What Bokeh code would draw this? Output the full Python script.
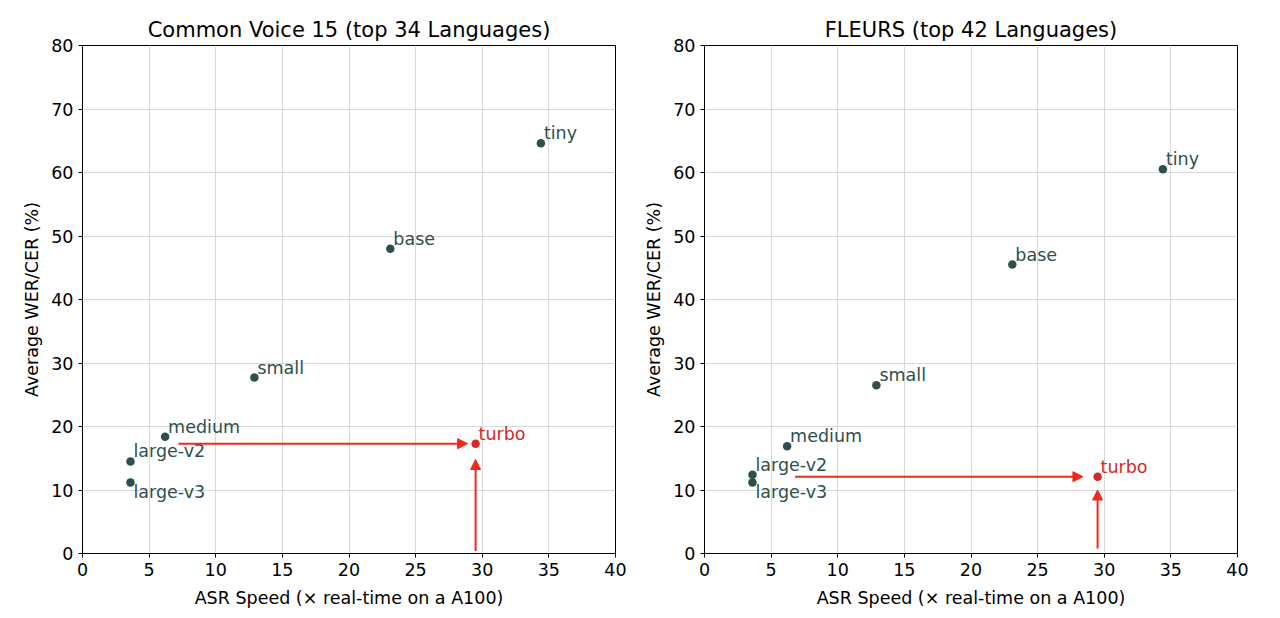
from bokeh.plotting import figure
from bokeh.layouts import row
from bokeh.models import Arrow, NormalHead, ColumnDataSource, FixedTicker
from bokeh.core.properties import value
from bokeh.embed import file_html
from bokeh.resources import INLINE

models = ["tiny", "base", "small", "medium", "large-v2", "large-v3", "turbo"]
speed = [34.4, 23.1, 12.9, 6.2, 3.6, 3.6, 29.5]
cv15_wer = [64.6, 48.0, 27.7, 18.4, 14.5, 11.2, 17.3]
fleurs_wer = [60.5, 45.5, 26.5, 16.9, 12.4, 11.2, 12.1]

titles = ["Common Voice 15 (top 34 Languages)", "FLEURS (top 42 Languages)"]
x_ticks = [0, 5, 10, 15, 20, 25, 30, 35, 40]
y_ticks = [0, 10, 20, 30, 40, 50, 60, 70, 80]

# arrow endpoints: (horizontal start x, horizontal end x, vertical start y, vertical end y)
arrows_cv = (7.2, 28.9, 0.4, 14.8)
arrows_fl = (6.8, 28.4, 0.8, 10.0)

DARK = "#2f4f4f"
RED = "#d62728"
ARROW = "#ee2a1a"
FONT = "DejaVu Sans"
FS = "17.5px"


def make(title, wer, arr, border_left, border_right):
    p = figure(width=border_left + 533 + border_right, height=612,
               x_range=(0, 40), y_range=(0, 80),
               output_backend="svg", toolbar_location=None,
               min_border_left=border_left, min_border_right=border_right,
               min_border_top=45, min_border_bottom=59)
    p.title.text = title
    p.title.align = "center"
    p.title.text_font = FONT
    p.title.text_font_size = "21px"
    p.title.text_font_style = "normal"
    p.title.text_color = "black"
    p.title.standoff = 7

    p.xaxis.axis_label = "ASR Speed (× real-time on a A100)"
    p.yaxis.axis_label = "Average WER/CER (%)"
    p.xaxis.ticker = FixedTicker(ticks=x_ticks)
    p.yaxis.ticker = FixedTicker(ticks=y_ticks)
    for ax in (p.xaxis, p.yaxis):
        ax.axis_label_text_font = FONT
        ax.axis_label_text_font_size = FS
        ax.axis_label_text_font_style = "normal"
        ax.axis_label_text_color = "black"
        ax.major_label_text_font = FONT
        ax.major_label_text_font_size = FS
        ax.major_label_text_color = "black"
        ax.major_tick_out = 4
        ax.major_tick_in = 0
        ax.minor_tick_line_color = None
        ax.axis_line_color = "black"
        ax.major_tick_line_color = "black"
        ax.axis_label_standoff = 6
        ax.major_label_standoff = 5
    p.xaxis.axis_label_standoff = 9
    p.grid.grid_line_color = "#d9d9d9"
    p.grid.grid_line_width = 1
    p.outline_line_color = "black"
    p.outline_line_width = 1
    p.outline_line_alpha = 1

    n = len(models)
    colors = [DARK] * (n - 1) + [RED]
    src = ColumnDataSource(dict(x=speed, y=wer, name=models, c=colors))
    p.scatter("x", "y", source=src, size=8.5, color="c", line_color=None)

    above = [i for i, m in enumerate(models) if m != "large-v3"]
    below = [i for i, m in enumerate(models) if m == "large-v3"]
    src_a = ColumnDataSource(dict(x=[speed[i] for i in above], y=[wer[i] for i in above],
                                  t=[models[i] for i in above], c=[colors[i] for i in above]))
    src_b = ColumnDataSource(dict(x=[speed[i] for i in below], y=[wer[i] for i in below],
                                  t=[models[i] for i in below], c=[colors[i] for i in below]))
    p.text("x", "y", text="t", source=src_a, text_color="c", text_font=value(FONT),
           text_font_size=FS, x_offset=3, y_offset=-10, text_baseline="alphabetic")
    p.text("x", "y", text="t", source=src_b, text_color="c", text_font=value(FONT),
           text_font_size=FS, x_offset=3, y_offset=0, text_baseline="top")

    tx, ty = speed[-1], wer[-1]
    hx0, hx1, vy0, vy1 = arr
    p.add_layout(Arrow(end=NormalHead(size=10, fill_color=ARROW, line_color=ARROW),
                       x_start=hx0, y_start=ty, x_end=hx1, y_end=ty,
                       line_color=ARROW, line_width=2))
    p.add_layout(Arrow(end=NormalHead(size=10, fill_color=ARROW, line_color=ARROW),
                       x_start=tx, y_start=vy0, x_end=tx, y_end=vy1,
                       line_color=ARROW, line_width=2))
    return p


p1 = make(titles[0], cv15_wer, arrows_cv, 82, 25)
p2 = make(titles[1], fleurs_wer, arrows_fl, 64, 30)
layout = row(p1, p2)

open("out.html", "w").write(file_html(layout, INLINE))
